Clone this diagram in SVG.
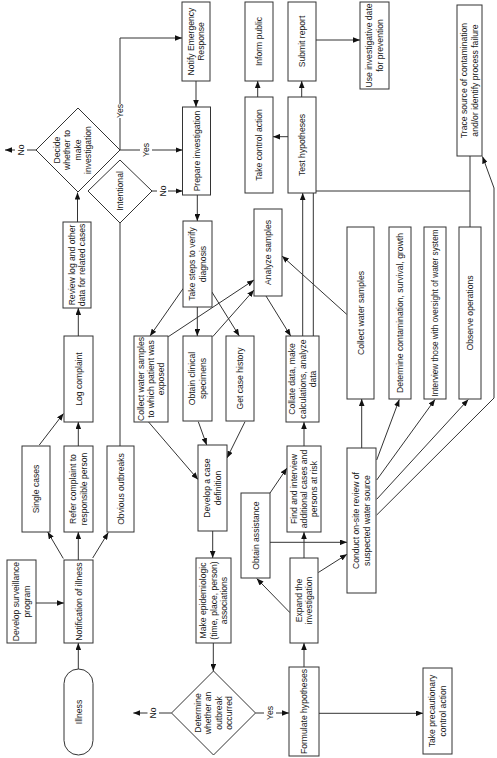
<svg xmlns="http://www.w3.org/2000/svg" width="497" height="758" viewBox="0 0 497 758">
<defs>
<marker id="a" viewBox="0 0 10 8" refX="10" refY="4" markerWidth="7" markerHeight="5.6" orient="auto" markerUnits="userSpaceOnUse"><path d="M0,0 L10,4 L0,8 z" fill="#111"/></marker>
<style>
.b{fill:#fff;stroke:#333;stroke-width:1}
.t{font-family:"Liberation Sans",Arial,sans-serif;font-size:8.6px;fill:#1a1a1a;text-anchor:middle}
.c{fill:none;stroke:#333;stroke-width:1}
.m{marker-end:url(#a)}
</style>
</defs>
<rect width="497" height="758" fill="#fff"/>
<g id="connectors">
<path class="c m" d="M196,81 V107"/>
<path class="c" d="M120,150 V118"/>
<path class="c m" d="M120,104 V38 H182"/>
<path class="c" d="M120,150 H140"/>
<path class="c m" d="M152,150 H182.5"/>
<path class="c" d="M36,150 H27"/>
<path class="c m" d="M15,150 H5"/>
<path class="c" d="M152,191 H157"/>
<path class="c m" d="M168,191 H182.5"/>
<path class="c" d="M120,446 V223"/>
<path class="c m" d="M77.5,222 V192.5"/>
<path class="c m" d="M78.3,336 V308"/>
<path class="c m" d="M78.3,446 V422"/>
<path class="c m" d="M39.3,445 L63.5,413.5"/>
<path class="c m" d="M63.3,558.5 L47.7,532"/>
<path class="c m" d="M78.3,560 V532"/>
<path class="c m" d="M92.7,558 L108.3,532.5"/>
<path class="c m" d="M36,603 H64"/>
<path class="c m" d="M78.3,669 V643"/>
<path class="c m" d="M197.3,195 V221"/>
<path class="c m" d="M197.3,307 V336"/>
<path class="c m" d="M211.7,291.7 L239.3,336"/>
<path class="c m" d="M183.3,288.3 L150,336"/>
<path class="c m" d="M168.3,336.7 L254,280"/>
<path class="c m" d="M212.7,336.7 L254,290"/>
<path class="c m" d="M346.7,314.3 L282,256"/>
<path class="c m" d="M266,296 L290.7,336"/>
<path class="c m" d="M302.7,336 V193"/>
<path class="c" d="M313.3,336 V191 H470"/>
<path class="c" d="M470,156 V227"/>
<path class="c m" d="M288,136.7 H273"/>
<path class="c m" d="M257.7,97 V81"/>
<path class="c m" d="M301.7,97 V81"/>
<path class="c m" d="M316,40 H360"/>
<path class="c m" d="M148.3,421.7 L198,479.5"/>
<path class="c m" d="M198.3,421.7 L206.7,445"/>
<path class="c m" d="M245,421.7 L227,458"/>
<path class="c m" d="M212.7,531 V558"/>
<path class="c m" d="M213.3,643 V671"/>
<path class="c" d="M255.5,713 H264"/>
<path class="c m" d="M276,713 H289"/>
<path class="c" d="M171.5,713 H159"/>
<path class="c m" d="M147.5,713 H133.3"/>
<path class="c m" d="M304,667 V643"/>
<path class="c m" d="M319,713.3 H423"/>
<path class="c m" d="M290,612.7 L256.7,578.5"/>
<path class="c m" d="M318.3,572.5 L347,554.3"/>
<path class="c m" d="M304,558 V532"/>
<path class="c m" d="M270,493 L287,468"/>
<path class="c m" d="M270,542.3 H347"/>
<path class="c m" d="M304,446 V422"/>
<path class="c m" d="M361.7,448 V399"/>
<path class="c m" d="M376.7,460 L399.3,399.5"/>
<path class="c m" d="M376.7,480 L435,399.5"/>
<path class="c m" d="M376.7,499.3 L468.3,399.5"/>
<path class="c m" d="M376.7,515 L494,398 L494,188 L482.5,156.5"/>
<text class="t" transform="translate(120,111) rotate(-90)" dy="3">Yes</text>
<text class="t" transform="translate(146,150) rotate(-90)" dy="3">Yes</text>
<text class="t" transform="translate(21,150) rotate(-90)" dy="3">No</text>
<text class="t" transform="translate(162.5,191) rotate(-90)" dy="3">No</text>
<text class="t" transform="translate(270,713) rotate(-90)" dy="3">Yes</text>
<text class="t" transform="translate(153.3,713) rotate(-90)" dy="3">No</text>
</g>
<g id="notify"><rect class="b" x="182" y="2" width="28" height="79"/><text class="t" transform="translate(196,41.5) rotate(-90)"><tspan x="0" dy="-2.25">Notify Emergency</tspan><tspan x="0" dy="10.5">Response</tspan></text></g>
<g id="prepare"><rect class="b" x="182.5" y="107" width="28" height="88"/><text class="t" transform="translate(196.5,151) rotate(-90)"><tspan x="0" dy="3">Prepare investigation</tspan></text></g>
<g id="inform"><rect class="b" x="245" y="2" width="28" height="79"/><text class="t" transform="translate(259,41.5) rotate(-90)"><tspan x="0" dy="3">Inform public</tspan></text></g>
<g id="submit"><rect class="b" x="288" y="2" width="28" height="79"/><text class="t" transform="translate(302,41.5) rotate(-90)"><tspan x="0" dy="3">Submit report</tspan></text></g>
<g id="takecontrol"><rect class="b" x="245" y="97" width="28" height="96"/><text class="t" transform="translate(259,145) rotate(-90)"><tspan x="0" dy="3">Take control action</tspan></text></g>
<g id="test"><rect class="b" x="288" y="97" width="28" height="96"/><text class="t" transform="translate(302,145) rotate(-90)"><tspan x="0" dy="3">Test hypotheses</tspan></text></g>
<g id="use"><rect class="b" x="360" y="2" width="29" height="87"/><text class="t" transform="translate(374.5,45.5) rotate(-90)"><tspan x="0" dy="-2.25">Use investigative date</tspan><tspan x="0" dy="10.5">for prevention</tspan></text></g>
<g id="trace"><rect class="b" x="457" y="5" width="25" height="151"/><text class="t" transform="translate(469.5,80.5) rotate(-90)"><tspan x="0" dy="-2.25">Trace source of contamination</tspan><tspan x="0" dy="10.5">and/or identify process failure</tspan></text></g>
<g id="decide"><path class="b" d="M78,108 L120,150 L78,192 L36,150 z"/><text class="t" transform="translate(72.5,150) rotate(-90)"><tspan x="0" dy="-12.3">Decide</tspan><tspan x="0" dy="10.2">whether to</tspan><tspan x="0" dy="10.2">make</tspan><tspan x="0" dy="10.2">investigation</tspan></text></g>
<g id="intentional"><path class="b" d="M120,160 L152,191 L120,223 L88,191 z"/><text class="t" transform="translate(120,191) rotate(-90)"><tspan x="0" dy="3">Intentional</tspan></text></g>
<g id="review"><rect class="b" x="63" y="222" width="28" height="86"/><text class="t" transform="translate(77,265) rotate(-90)"><tspan x="0" dy="-2.25">Review log and other</tspan><tspan x="0" dy="10.5">data for related cases</tspan></text></g>
<g id="log"><rect class="b" x="64" y="336" width="29" height="86"/><text class="t" transform="translate(78.5,379) rotate(-90)"><tspan x="0" dy="3">Log complaint</tspan></text></g>
<g id="single"><rect class="b" x="22" y="446" width="28" height="86"/><text class="t" transform="translate(36,489) rotate(-90)"><tspan x="0" dy="3">Single cases</tspan></text></g>
<g id="refer"><rect class="b" x="64" y="446" width="29" height="86"/><text class="t" transform="translate(78.5,489) rotate(-90)"><tspan x="0" dy="-2.25">Refer complaint to</tspan><tspan x="0" dy="10.5">responsible person</tspan></text></g>
<g id="obvious"><rect class="b" x="107" y="446" width="27" height="86"/><text class="t" transform="translate(120.5,489) rotate(-90)"><tspan x="0" dy="3">Obvious outbreaks</tspan></text></g>
<g id="notification"><rect class="b" x="64" y="560" width="29" height="83"/><text class="t" transform="translate(78.5,601.5) rotate(-90)"><tspan x="0" dy="3">Notification of illness</tspan></text></g>
<g id="surveillance"><rect class="b" x="7" y="560" width="29" height="83"/><text class="t" transform="translate(21.5,601.5) rotate(-90)"><tspan x="0" dy="-2.25">Develop surveillance</tspan><tspan x="0" dy="10.5">program</tspan></text></g>
<g id="illness"><rect class="b" x="64" y="669" width="29" height="86" rx="14.5" ry="14.5"/><text class="t" transform="translate(78.5,712) rotate(-90)"><tspan x="0" dy="3">Illness</tspan></text></g>
<g id="collectpatient"><rect class="b" x="134" y="336" width="34" height="86"/><text class="t" transform="translate(151,379) rotate(-90)"><tspan x="0" dy="-7.2">Collect water samples</tspan><tspan x="0" dy="10.2">to which patient was</tspan><tspan x="0" dy="10.2">exposed</tspan></text></g>
<g id="takesteps"><rect class="b" x="183" y="221" width="29" height="86"/><text class="t" transform="translate(197.5,264) rotate(-90)"><tspan x="0" dy="-2.25">Take steps to verify</tspan><tspan x="0" dy="10.5">diagnosis</tspan></text></g>
<g id="clinical"><rect class="b" x="183" y="336" width="29" height="85"/><text class="t" transform="translate(197.5,378.5) rotate(-90)"><tspan x="0" dy="-2.25">Obtain clinical</tspan><tspan x="0" dy="10.5">specimens</tspan></text></g>
<g id="history"><rect class="b" x="226" y="336" width="28" height="85"/><text class="t" transform="translate(240,378.5) rotate(-90)"><tspan x="0" dy="3">Get case history</tspan></text></g>
<g id="analyze"><rect class="b" x="254" y="209" width="28" height="87"/><text class="t" transform="translate(268,252.5) rotate(-90)"><tspan x="0" dy="3">Analyze samples</tspan></text></g>
<g id="collate"><rect class="b" x="286" y="336" width="33" height="86"/><text class="t" transform="translate(302.5,379) rotate(-90)"><tspan x="0" dy="-7.2">Collate data, make</tspan><tspan x="0" dy="10.2">calculations, analyze</tspan><tspan x="0" dy="10.2">data</tspan></text></g>
<g id="collectwater"><rect class="b" x="347" y="227" width="27" height="172"/><text class="t" transform="translate(360.5,313) rotate(-90)"><tspan x="0" dy="3">Collect water samples</tspan></text></g>
<g id="contamination"><rect class="b" x="389" y="227" width="22" height="172"/><text class="t" transform="translate(400,313) rotate(-90)"><tspan x="0" dy="3">Determine contamination, survival, growth</tspan></text></g>
<g id="interview"><rect class="b" x="424" y="227" width="22" height="172"/><text class="t" transform="translate(435,313) rotate(-90)" style="font-size:8.2px"><tspan x="0" dy="3">Interview those with oversight of water system</tspan></text></g>
<g id="observe"><rect class="b" x="459" y="227" width="22" height="172"/><text class="t" transform="translate(470,313) rotate(-90)"><tspan x="0" dy="3">Observe operations</tspan></text></g>
<g id="conduct"><rect class="b" x="347" y="448" width="29" height="145"/><text class="t" transform="translate(361.5,520.5) rotate(-90)"><tspan x="0" dy="-2.25">Conduct on-site review of</tspan><tspan x="0" dy="10.5">suspected water source</tspan></text></g>
<g id="find"><rect class="b" x="287" y="446" width="34" height="86"/><text class="t" transform="translate(304,489) rotate(-90)"><tspan x="0" dy="-7.2">Find and interview</tspan><tspan x="0" dy="10.2">additional cases and</tspan><tspan x="0" dy="10.2">persons at risk</tspan></text></g>
<g id="assistance"><rect class="b" x="241" y="493" width="29" height="85"/><text class="t" transform="translate(255.5,535.5) rotate(-90)"><tspan x="0" dy="3">Obtain assistance</tspan></text></g>
<g id="casedef"><rect class="b" x="198" y="445" width="29" height="86"/><text class="t" transform="translate(212.5,488) rotate(-90)"><tspan x="0" dy="-2.25">Develop a case</tspan><tspan x="0" dy="10.5">definition</tspan></text></g>
<g id="epi"><rect class="b" x="196" y="558" width="35" height="85"/><text class="t" transform="translate(213.5,600.5) rotate(-90)"><tspan x="0" dy="-7.2">Make epidemiologic</tspan><tspan x="0" dy="10.2">(time, place, person)</tspan><tspan x="0" dy="10.2">associations</tspan></text></g>
<g id="expand"><rect class="b" x="290" y="558" width="28" height="85"/><text class="t" transform="translate(304,600.5) rotate(-90)"><tspan x="0" dy="-2.25">Expand the</tspan><tspan x="0" dy="10.5">investigation</tspan></text></g>
<g id="outbreak"><path class="b" d="M213.5,671 L255.5,713 L213.5,755 L171.5,713 z"/><text class="t" transform="translate(213.5,713) rotate(-90)"><tspan x="0" dy="-12.75">Determine</tspan><tspan x="0" dy="10.5">whether an</tspan><tspan x="0" dy="10.5">outbreak</tspan><tspan x="0" dy="10.5">occurred</tspan></text></g>
<g id="formulate"><rect class="b" x="289" y="667" width="30" height="89"/><text class="t" transform="translate(304,711.5) rotate(-90)"><tspan x="0" dy="3">Formulate hypotheses</tspan></text></g>
<g id="precaution"><rect class="b" x="423" y="668" width="29" height="86"/><text class="t" transform="translate(437.5,711) rotate(-90)"><tspan x="0" dy="-2.25">Take precautionary</tspan><tspan x="0" dy="10.5">control action</tspan></text></g>
</svg>
